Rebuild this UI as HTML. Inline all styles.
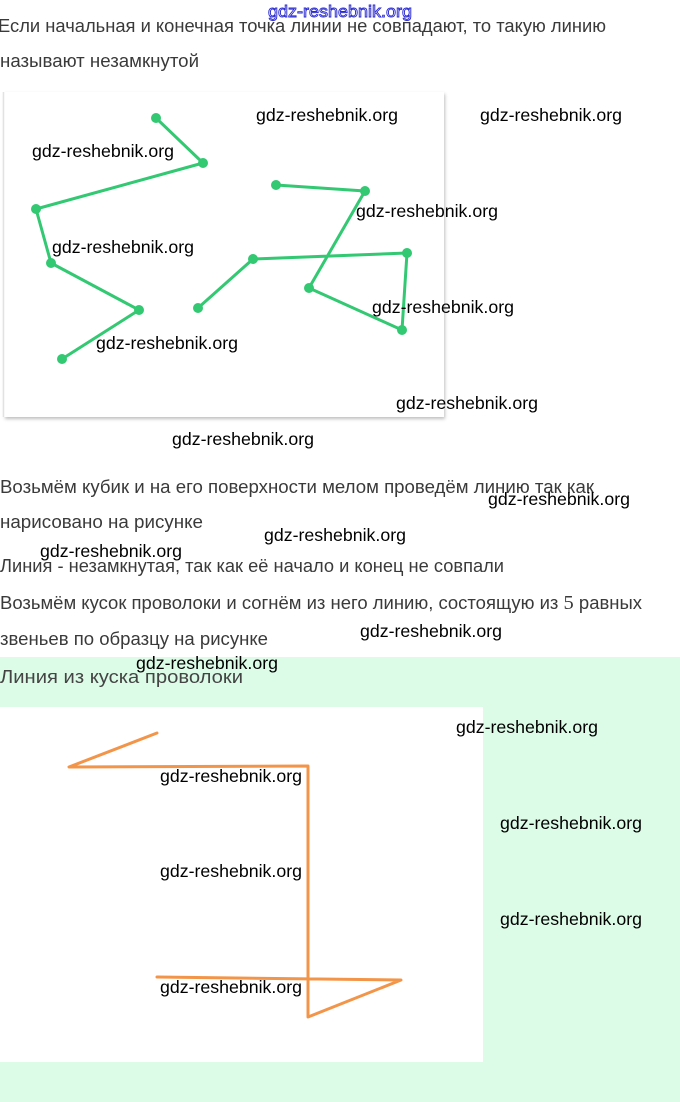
<!DOCTYPE html>
<html>
<head>
<meta charset="utf-8">
<style>
html,body{margin:0;padding:0;background:#fff;}
body{width:680px;height:1102px;overflow:hidden;position:relative;}
svg{display:block;}
.t{font-family:"Liberation Sans","DejaVu Sans",sans-serif;font-size:18px;fill:#3a3a3a;}
.w{font-family:"Liberation Sans","DejaVu Sans",sans-serif;font-size:17.5px;fill:#000;}
</style>
</head>
<body>
<svg width="680" height="1102" viewBox="0 0 680 1102" xmlns="http://www.w3.org/2000/svg">
  <defs>
    <filter id="sh" x="-5%" y="-5%" width="110%" height="110%">
      <feDropShadow dx="1" dy="2" stdDeviation="1.5" flood-color="#000" flood-opacity="0.25"/>
    </filter>
  </defs>
  <rect x="0" y="0" width="680" height="1102" fill="#fff"/>

  <!-- top text -->
  <text class="t" x="-2" y="32" textLength="608" lengthAdjust="spacingAndGlyphs">Если начальная и конечная точка линии не совпадают, то такую линию</text>
  <text class="t" x="0" y="67" textLength="199" lengthAdjust="spacingAndGlyphs">называют незамкнутой</text>

  <!-- figure 1 box -->
  <rect x="4" y="92" width="440" height="325" fill="#fff" filter="url(#sh)"/>
  <line x1="3.5" y1="92" x2="3.5" y2="417" stroke="#e2e2e2" stroke-width="1.5"/>

  <!-- green polylines -->
  <g stroke="#33c872" stroke-width="3" fill="none" stroke-linejoin="round" stroke-linecap="round">
    <polyline points="156,118 203,163 36,209 51,263 139,310 62,359"/>
    <polyline points="276,185 365,191 309,288 402,330 407,253 253,259 198,308"/>
  </g>
  <g fill="#33c872">
    <circle cx="156" cy="118" r="5"/>
    <circle cx="203" cy="163" r="5"/>
    <circle cx="36" cy="209" r="5"/>
    <circle cx="51" cy="263" r="5"/>
    <circle cx="139" cy="310" r="5"/>
    <circle cx="62" cy="359" r="5"/>
    <circle cx="276" cy="185" r="5"/>
    <circle cx="365" cy="191" r="5"/>
    <circle cx="309" cy="288" r="5"/>
    <circle cx="402" cy="330" r="5"/>
    <circle cx="407" cy="253" r="5"/>
    <circle cx="253" cy="259" r="5"/>
    <circle cx="198" cy="308" r="5"/>
  </g>

  <!-- middle text -->
  <text class="t" x="0" y="493" textLength="594" lengthAdjust="spacingAndGlyphs">Возьмём кубик и на его поверхности мелом проведём линию так как</text>
  <text class="t" x="0" y="528" textLength="203" lengthAdjust="spacingAndGlyphs">нарисовано на рисунке</text>
  <text class="t" x="0" y="572" textLength="504" lengthAdjust="spacingAndGlyphs">Линия - незамкнутая, так как её начало и конец не совпали</text>
  <text class="t" x="0" y="609" textLength="642" lengthAdjust="spacingAndGlyphs">Возьмём кусок проволоки и согнём из него линию, состоящую из <tspan font-family="Liberation Serif, serif" font-size="20">5</tspan> равных</text>
  <text class="t" x="0" y="645" textLength="268" lengthAdjust="spacingAndGlyphs">звеньев по образцу на рисунке</text>

  <!-- green section -->
  <rect x="0" y="657" width="680" height="445" fill="#dcfce7"/>
  <text class="t" x="0" y="683" textLength="243" lengthAdjust="spacingAndGlyphs" style="fill:#444">Линия из куска проволоки</text>
  <rect x="0" y="707" width="483" height="355" fill="#fff"/>

  <!-- orange wire -->
  <g stroke="#f39548" stroke-width="3" fill="none" stroke-linejoin="round" stroke-linecap="round">
    <polyline points="157,733 69,767 308,766 308,1017 401,980 157,977"/>
  </g>

  <!-- watermarks -->
  <text x="268" y="17" textLength="144" lengthAdjust="spacingAndGlyphs" style="font-family:'Liberation Sans',sans-serif;font-size:17px;fill:#fff;stroke:#2a2ad0;stroke-width:0.9">gdz-reshebnik.org</text>
  <text class="w" x="256" y="121" textLength="142" lengthAdjust="spacingAndGlyphs">gdz-reshebnik.org</text>
  <text class="w" x="480" y="121" textLength="142" lengthAdjust="spacingAndGlyphs">gdz-reshebnik.org</text>
  <text class="w" x="32" y="157" textLength="142" lengthAdjust="spacingAndGlyphs">gdz-reshebnik.org</text>
  <text class="w" x="356" y="217" textLength="142" lengthAdjust="spacingAndGlyphs">gdz-reshebnik.org</text>
  <text class="w" x="52" y="253" textLength="142" lengthAdjust="spacingAndGlyphs">gdz-reshebnik.org</text>
  <text class="w" x="372" y="313" textLength="142" lengthAdjust="spacingAndGlyphs">gdz-reshebnik.org</text>
  <text class="w" x="96" y="349" textLength="142" lengthAdjust="spacingAndGlyphs">gdz-reshebnik.org</text>
  <text class="w" x="396" y="409" textLength="142" lengthAdjust="spacingAndGlyphs">gdz-reshebnik.org</text>
  <text class="w" x="172" y="445" textLength="142" lengthAdjust="spacingAndGlyphs">gdz-reshebnik.org</text>
  <text class="w" x="488" y="505" textLength="142" lengthAdjust="spacingAndGlyphs">gdz-reshebnik.org</text>
  <text class="w" x="264" y="541" textLength="142" lengthAdjust="spacingAndGlyphs">gdz-reshebnik.org</text>
  <text class="w" x="40" y="557" textLength="142" lengthAdjust="spacingAndGlyphs">gdz-reshebnik.org</text>
  <text class="w" x="360" y="637" textLength="142" lengthAdjust="spacingAndGlyphs">gdz-reshebnik.org</text>
  <text class="w" x="136" y="669" textLength="142" lengthAdjust="spacingAndGlyphs">gdz-reshebnik.org</text>
  <text class="w" x="456" y="733" textLength="142" lengthAdjust="spacingAndGlyphs">gdz-reshebnik.org</text>
  <text class="w" x="160" y="782" textLength="142" lengthAdjust="spacingAndGlyphs">gdz-reshebnik.org</text>
  <text class="w" x="500" y="829" textLength="142" lengthAdjust="spacingAndGlyphs">gdz-reshebnik.org</text>
  <text class="w" x="160" y="877" textLength="142" lengthAdjust="spacingAndGlyphs">gdz-reshebnik.org</text>
  <text class="w" x="500" y="925" textLength="142" lengthAdjust="spacingAndGlyphs">gdz-reshebnik.org</text>
  <text class="w" x="160" y="993" textLength="142" lengthAdjust="spacingAndGlyphs">gdz-reshebnik.org</text>
</svg>
</body>
</html>
